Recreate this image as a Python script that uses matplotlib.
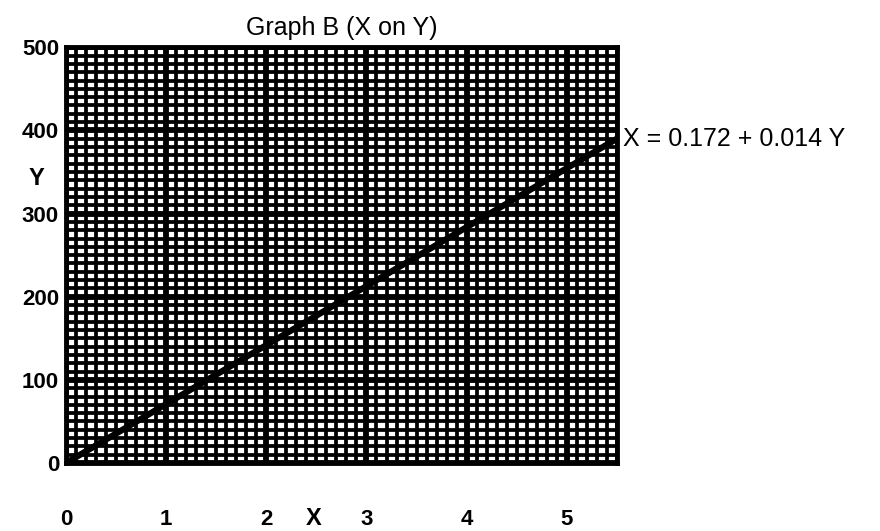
import numpy as np
import matplotlib
matplotlib.use("Agg")
import matplotlib.pyplot as plt

# values
x_ticks = [0, 1, 2, 3, 4, 5]
y_ticks = [0, 100, 200, 300, 400, 500]
line_x = [0, 5.5]
line_y = [0, 390]
equation = "X = 0.172 + 0.014 Y"

plt.rcParams["font.family"] = ["Liberation Sans", "DejaVu Sans"]

fig = plt.figure(figsize=(8.8, 5.31), dpi=100)
ax = fig.add_axes([0.075, 0.128, 0.626, 0.783])
ax.set_xlim(0, 5.5)
ax.set_ylim(0, 500)

# graph paper: fine lines every 0.1 / 10, heavier every 1 / 100
for xv in np.arange(0, 5.5001, 0.1):
    ax.axvline(xv, color="black", lw=2.7, zorder=1)
for yv in np.arange(0, 500.001, 10):
    ax.axhline(yv, color="black", lw=2.7, zorder=1)
for xv in x_ticks:
    ax.axvline(xv, color="black", lw=4.2, zorder=1)
for yv in y_ticks:
    ax.axhline(yv, color="black", lw=4.2, zorder=1)

ax.plot(line_x, line_y, color="black", lw=4.5, solid_capstyle="butt", zorder=3)

for s in ax.spines.values():
    s.set_linewidth(3.5)

ax.set_xticks(x_ticks)
ax.set_yticks(y_ticks)
ax.tick_params(length=0)
ax.tick_params(axis="x", pad=33)
ax.tick_params(axis="y", pad=5)
for lab in ax.get_xticklabels() + ax.get_yticklabels():
    lab.set_fontsize(16)
    lab.set_fontweight("bold")

ax.set_title("Graph B (X on Y)", fontsize=18, pad=9)
ax.text(2.47, -67, "X", fontsize=17, fontweight="bold", ha="center", va="center")
ax.text(-0.29, 342, "Y", fontsize=17, fontweight="bold", ha="center", va="center")
ax.text(5.56, 390, equation, fontsize=18, ha="left", va="center")

fig.savefig("out.png", dpi=100)
